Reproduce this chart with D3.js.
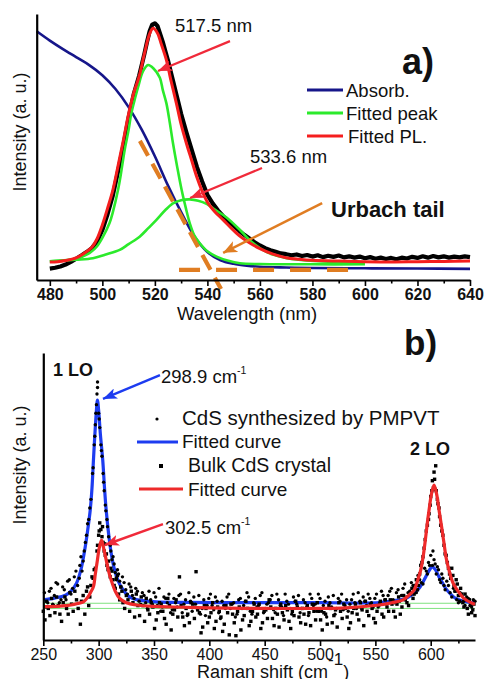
<!DOCTYPE html>
<html>
<head>
<meta charset="utf-8">
<script src="https://cdn.jsdelivr.net/npm/d3@7"></script>
<style>
  body { margin: 0; background: #fff; }
  svg { display: block; font-family: "Liberation Sans", Arial, sans-serif; }
</style>
</head>
<body>
<script>
// ---- panel a) : PL spectrum and absorption ----
const aTicks = [480, 500, 520, 540, 560, 580, 600, 620, 640];
const aMinor = [490, 510, 530, 550, 570, 590, 610, 630];

const absWl = [475, 480, 485, 490, 495, 500, 505, 510, 515, 520, 525, 530, 535, 540, 545, 550, 555, 560, 570, 580, 600, 620, 640];
const absVal = [93.5, 90, 86.8, 83.8, 80.8, 77, 71.8, 65, 56.5, 46.5, 35.5, 25.5, 16.5, 10.5, 7.4, 6.1, 5.4, 5, 4.7, 4.5, 4.4, 4.3, 4.2];

const plWl = [480, 482, 484, 486, 488, 490, 492, 494, 496, 498, 500, 502, 504, 506, 508, 510, 512, 514, 516, 517, 518, 519, 520, 521, 522, 523, 524, 525, 526, 527, 528, 529, 530, 532, 534, 536, 538, 540, 542, 544, 546, 548, 550, 552, 554, 556, 558, 560, 562, 564, 566, 568, 570, 572, 574, 576, 578, 580, 582, 584, 586, 588, 590, 592, 594, 596, 598, 600, 602, 604, 606, 608, 610, 612, 614, 616, 618, 620, 622, 624, 626, 628, 630, 632, 634, 636, 638, 640];
const plVal = [4.3, 4.6, 5.1, 5.8, 6.8, 8, 9.2, 10.5, 12, 14.4, 18.8, 24.8, 31.8, 41, 50.5, 61, 70, 76.8, 85, 89.5, 93.5, 96, 96.5, 95.5, 92.5, 89.5, 86, 82.5, 78.5, 74.5, 70.5, 66.5, 62.5, 55.5, 49, 42.5, 37, 32, 28.8, 26.2, 24, 22, 20.3, 18.6, 17, 15.6, 14.2, 13, 12, 11.2, 10.6, 10, 9.7, 9.3, 9.6, 9, 9.4, 8.8, 9.3, 8.6, 9.1, 8.7, 9.2, 8.5, 8.9, 8.4, 8.8, 8.2, 8.6, 8, 8.4, 7.9, 8.3, 7.8, 8.4, 8.1, 8.7, 8.3, 8.9, 8.4, 9, 8.5, 8.9, 8.4, 8.8, 8.5, 8.9, 8.6];

const fitWl = [480, 483, 486, 490, 493, 496, 498, 500, 502, 504, 506, 508, 510, 512, 514, 516, 518, 519.3, 521, 522.5, 524.4, 526, 528.2, 530, 532, 534, 536, 538, 540.3, 543, 546, 549, 552, 556, 560, 565, 570, 575, 580, 590, 600, 610, 620, 630, 640];
const fitVal = [6.8, 6.9, 7.3, 8.3, 10, 12.3, 15.5, 20.7, 27, 33.8, 43, 52.5, 62.5, 70.5, 76.5, 85, 92.5, 94.6, 92.8, 88.5, 82.7, 75.5, 66.4, 58.5, 51.4, 45, 38.6, 33.4, 28.8, 25.5, 22.6, 19.6, 16.8, 14, 11.8, 9.7, 8.4, 7.8, 7.4, 7.1, 6.9, 6.8, 6.9, 7, 7.1];

const peak1Wl = [480, 484, 488, 491, 494, 496, 498, 500, 502.7, 504, 506, 507, 508.5, 510, 511, 512.5, 513.6, 515.5, 517.4, 519.5, 521.9, 523, 524.4, 525.7, 526.9, 528.5, 530.2, 531.8, 533.3, 535, 537.1, 540, 543.5, 548, 552.4, 560, 580, 600];
const peak1Val = [7, 7.3, 7.7, 8.2, 9.5, 10.8, 12.7, 15.8, 21.3, 25.5, 34, 39.5, 48.9, 56.5, 62.5, 68.5, 72.5, 78.5, 80.8, 79.5, 76, 71.5, 66.4, 59, 51.4, 42.5, 33.8, 27, 21.3, 16.8, 13.8, 10.8, 8.8, 7.2, 6.3, 6, 5.9, 5.9];

const peak2Wl = [480, 484, 490, 496.4, 501, 506.6, 510, 514.2, 517.5, 520.6, 524, 526.9, 530, 533.3, 536.5, 539.7, 543, 547.4, 552.4, 557, 563, 569, 575.6, 588, 600];
const peak2Val = [7, 7.2, 7.6, 8.2, 9.5, 11.3, 13.5, 16.3, 19.5, 22.6, 26.3, 28.8, 30, 30.3, 29.8, 28.6, 26.4, 23.4, 18.8, 14.2, 10.3, 8.5, 7.5, 6.8, 6.6];

// ---- panel b) : Raman ----
const bTicks = [250, 300, 350, 400, 450, 500, 550, 600];
const bMinor = [275, 325, 375, 425, 475, 525, 575, 625];

const blueShift = [250, 260, 270, 275, 280, 284, 287.9, 290, 292.4, 294, 295.3, 296.5, 297.8, 298.9, 300, 301.5, 303.7, 305.3, 306.8, 309, 311.3, 314, 317.3, 322, 327.9, 335, 352, 380, 420, 460, 500, 530, 553.4, 565, 577.5, 584, 589.5, 595.5, 599, 601.5, 604, 607.5, 610.5, 613.5, 618, 622.5, 630, 637.5, 640];
const blueVal = [14, 14.6, 15.6, 17, 19.8, 24.5, 32.5, 38, 45.3, 53, 62.7, 71, 79, 83.6, 80, 72, 62.7, 53, 45.3, 37, 30.3, 25, 20.9, 17.5, 15, 14, 13.3, 13.1, 13, 13, 13, 12.9, 13, 13.6, 14.5, 16, 18, 22, 24.5, 25.5, 24.6, 22, 20, 18, 16, 14.5, 13.5, 13, 12.9];

const redShift = [250, 265, 275, 281, 286.3, 290, 293, 295.3, 297, 298.9, 300.5, 302.6, 304.5, 306.8, 309, 311.3, 315, 319, 325, 334, 350, 367, 400, 450, 500, 523, 553.4, 565, 574.5, 580, 585, 588, 591, 593.5, 595.5, 597, 598.5, 600.5, 603, 605.5, 607.5, 610, 612, 614, 616.5, 620, 624, 630, 637.5, 640];
const redVal = [11.6, 11.8, 12.2, 12.7, 13.3, 14.8, 16.8, 18.6, 23, 27.9, 32, 34.8, 32, 27.9, 24, 20.9, 17, 14.5, 13, 12.2, 11.7, 11.5, 11.2, 11, 11, 11.2, 12.2, 13, 13.9, 15.5, 17.4, 20.5, 24.4, 30, 36, 41, 45.3, 50.5, 54, 50.5, 45.3, 39, 33.7, 28.5, 24.4, 20, 17.4, 14.5, 12.8, 12.5];

const baseLevels = [12.8, 11.0];

// [shift, intensity] for the measured points, CdS synthesized by PMPVT
const pmpvtPts = [[251, 16.5], [254, 13], [257, 18], [260, 15.5], [263, 19.5], [266, 14], [269, 17.5], [272, 20.5], [275, 16], [278, 22], [281, 19], [283, 26], [285, 24], [287, 31], [289, 36.5], [291, 42], [293, 49], [294.5, 58], [296, 68], [297, 75], [298, 82], [298.5, 85.7], [299, 88], [299, 89.9], [300, 79], [301, 74], [302, 68], [303, 64], [304, 58], [305, 52], [306, 47], [307.5, 42], [309, 36], [310.5, 33], [312, 28], [314, 26.5], [316, 21], [318, 23], [320, 18.5], [323, 20], [326, 16], [329, 18.5], [332, 14.5], [335, 17], [338, 12.5], [341, 15.5], [344, 11], [347, 14], [350, 16.5], [353, 12], [356, 10], [359, 15], [362, 13], [365, 9.5], [368, 14.5], [371, 11.5], [374, 16], [377, 12.5], [380, 8.5], [383, 13.5], [386, 15], [389, 11], [392, 9], [395, 14], [398, 12], [401, 16], [404, 10.5], [407, 13.5], [410, 7.5], [413, 12], [416, 15], [419, 11], [422, 13], [425, 9], [428, 14.5], [431, 12], [434, 16.5], [437, 10], [440, 13], [443, 11.5], [446, 15.5], [449, 9.5], [452, 12.5], [455, 14], [458, 10.5], [461, 16], [464, 12], [467, 8.5], [470, 13.5], [473, 11], [476, 15], [479, 12.5], [482, 9.5], [485, 14], [488, 11.5], [491, 16], [494, 12], [497, 10], [500, 14.5], [503, 12], [506, 8], [509, 13], [512, 15.5], [515, 11], [518, 13.5], [521, 10.5], [524, 14], [527, 12.5], [530, 16], [533, 11], [536, 13.5], [539, 15], [542, 12], [545, 14.5], [548, 11.5], [551, 16], [554, 13], [557, 15.5], [560, 12.5], [563, 17], [566, 14], [569, 16.5], [572, 13.5], [575, 18], [578, 15], [581, 17], [584, 19], [587, 16.5], [590, 21], [593, 19.5], [596, 24], [598, 27], [600, 29.5], [601.5, 26], [603, 28], [605, 23], [607, 24.5], [609, 20], [611, 21.5], [613, 17.5], [616, 19], [619, 15], [622, 17], [625, 13], [628, 15.5], [631, 12], [634, 14.5], [637, 11.5], [640, 13.5],
  [252.5, 11.5], [255.5, 17], [258.5, 12.5], [261.5, 20], [264.5, 13], [267.5, 18.5], [270.5, 14], [273.5, 21], [276.5, 18], [279.5, 24], [282.5, 21.5], [284, 29], [286, 27.5], [288, 34], [290, 40.5], [292, 46], [295, 60], [296.5, 71], [297.5, 79], [300.5, 77], [302.5, 66], [304.5, 55], [306.5, 45], [308, 39.5], [311, 31], [313, 29], [315, 23.5], [317, 24.5], [319, 20.5], [321.5, 22], [324.5, 17.5], [327.5, 19.5], [330.5, 15.5], [333.5, 18], [336.5, 13.5], [339.5, 16.5], [342.5, 13], [345.5, 17], [348.5, 12.5], [351.5, 15], [354.5, 18], [357.5, 11.5], [360.5, 14.5], [363.5, 16], [366.5, 10.5], [369.5, 13], [372.5, 15.5], [375.5, 9.5], [378.5, 14], [381.5, 16.5], [384.5, 10], [387.5, 12.5], [390.5, 15.5], [393.5, 11], [396.5, 8.5], [399.5, 14.5], [402.5, 12], [405.5, 15], [408.5, 9.5], [411.5, 13.5], [414.5, 11], [417.5, 16], [420.5, 12.5], [423.5, 8], [426.5, 14], [429.5, 11], [432.5, 13.5], [435.5, 15], [438.5, 9], [441.5, 14.5], [444.5, 12], [447.5, 16.5], [450.5, 11], [453.5, 13], [456.5, 15.5], [459.5, 9.5], [462.5, 14], [465.5, 11.5], [468.5, 16], [471.5, 12.5], [474.5, 9], [477.5, 13.5], [480.5, 15.5], [483.5, 11], [486.5, 13], [489.5, 8.5], [492.5, 14.5], [495.5, 12.5], [498.5, 16], [501.5, 10], [504.5, 13.5], [507.5, 15], [510.5, 11.5], [513.5, 9], [516.5, 14.5], [519.5, 16], [522.5, 12], [525.5, 10], [528.5, 14], [531.5, 13], [534.5, 16.5], [537.5, 11], [540.5, 13.5], [543.5, 16], [546.5, 13], [549.5, 14.5], [552.5, 11.5], [555.5, 17], [558.5, 14], [561.5, 15.5], [564.5, 18], [567.5, 13], [570.5, 17.5], [573.5, 15.5], [576.5, 19.5], [579.5, 16.5], [582.5, 20], [585.5, 18], [588.5, 22.5], [591.5, 20], [594.5, 25], [597, 23], [599, 26], [602, 31], [604, 26.5], [606, 25.5], [608, 21], [610, 23], [612, 19], [614.5, 20.5], [617.5, 16.5], [620.5, 18], [623.5, 14], [626.5, 16.5], [629.5, 13.5], [632.5, 15], [635.5, 12], [638.5, 14]];

// [shift, intensity] for the bulk CdS crystal
const bulkPts = [[250, 10], [253, 13.5], [256, 8.5], [259, 12], [262, 15], [265, 9], [268, 13], [271, 11], [274, 16.5], [277, 10], [280, 14], [283.5, 5.5], [286, 15.5], [289, 17], [291, 12], [293, 19], [295, 21.5], [297, 25], [298.5, 31], [300, 36.5], [301, 40.8], [302, 38.5], [303, 36], [304, 34], [305, 31], [306, 29.5], [307.5, 26], [309, 27.5], [310.5, 22], [312, 24], [314, 19], [316, 21.5], [318, 16], [320, 18.5], [322, 13], [325, 15.5], [328, 10], [331, 13], [334, 16], [337, 8.5], [340, 12], [343, 14.5], [346, 9], [349, 11.5], [352, 7], [355, 13], [358, 10], [361, 5.5], [364, 12], [367, 9], [370, 14], [373, 22], [376, 8], [379, 11], [382, 6], [385, 12.5], [388, 23.8], [391, 9.5], [394, 4.5], [397, 11], [400, 8], [403, 13], [406, 6.5], [409, 10], [412, 3], [415, 12], [418, 1.8], [421, 9], [424, 1.5], [427, 11.5], [430, 7], [433, 13.5], [436, 5], [439, 10], [442, 8], [445, 12.5], [448, 6], [451, 10.5], [454, 14], [457, 7.5], [460, 11], [463, 4.5], [466, 9.5], [469, 12], [472, 6.5], [475, 10], [478, 13.5], [481, 8], [484, 11], [487, 5.5], [490, 9.5], [493, 12.5], [496, 7], [499, 10], [502, 3.5], [505, 9], [508, 12], [511, 6], [514, 10.5], [517, 13], [520, 7.5], [523, 11], [526, 4], [529, 9.5], [532, 12.5], [535, 7], [538, 10.5], [541, 13.5], [544, 8.5], [547, 11], [550, 6], [553, 12], [556, 9], [559, 14], [562, 10], [565, 12.5], [568, 8], [571, 15], [574, 11.5], [577, 14], [580, 12], [583, 18], [585, 16], [587, 21], [589, 19], [591, 26], [593, 29], [595, 35], [597, 40], [598.5, 44], [600, 50], [601.5, 55.5], [602.5, 53], [603, 58.5], [604.5, 60.7], [605, 52], [606, 49], [607.5, 46], [609, 40], [611, 36.5], [613, 30], [615, 27], [617, 23], [619, 25], [621, 19], [623, 21], [625, 15.5], [627, 18], [629, 13], [631, 16], [633, 11], [635, 14], [637, 9.5], [639, 12.5],
  [251.5, 7], [254.5, 11], [257.5, 14.5], [260.5, 9.5], [263.5, 12], [266.5, 6.5], [269.5, 15], [272.5, 9], [275.5, 12.5], [278.5, 17], [281.5, 11], [284.5, 13.5], [287.5, 9], [290, 18.5], [292, 15], [294, 22], [296, 24.5], [299, 33], [300.5, 38], [303.5, 39.5], [305.5, 33.5], [307, 30], [308.5, 24.5], [311, 25], [313, 21], [315, 18], [317, 22.5], [319, 14], [321, 17], [323.5, 11], [326.5, 14], [329.5, 17], [332.5, 8], [335.5, 12], [338.5, 15], [341.5, 6.5], [344.5, 10.5], [347.5, 13], [350.5, 4], [353.5, 9.5], [356.5, 12.5], [359.5, 7.5], [362.5, 14.5], [365.5, 3.5], [368.5, 10.5], [371.5, 8], [374.5, 12], [377.5, 5], [380.5, 9], [383.5, 13], [386.5, 7.5], [389.5, 10.5], [392.5, 2.5], [395.5, 12], [398.5, 6], [401.5, 9.5], [404.5, 4], [407.5, 11.5], [410.5, 8], [413.5, 5.5], [416.5, 9.5], [419.5, 12.5], [422.5, 6], [425.5, 10], [428.5, 3.5], [431.5, 8.5], [434.5, 11], [437.5, 6.5], [440.5, 12.5], [443.5, 9], [446.5, 4], [449.5, 10], [452.5, 7.5], [455.5, 11.5], [458.5, 5], [461.5, 9], [464.5, 12.5], [467.5, 7], [470.5, 10.5], [473.5, 4], [476.5, 8.5], [479.5, 11.5], [482.5, 6], [485.5, 9], [488.5, 12], [491.5, 5], [494.5, 10], [497.5, 13], [500.5, 7], [503.5, 9.5], [506.5, 5.5], [509.5, 11], [512.5, 8.5], [515.5, 4.5], [518.5, 10], [521.5, 12.5], [524.5, 8], [527.5, 6], [530.5, 11], [533.5, 9], [536.5, 13], [539.5, 5], [542.5, 10], [545.5, 12.5], [548.5, 7.5], [551.5, 10], [554.5, 13.5], [557.5, 8], [560.5, 11.5], [563.5, 14], [566.5, 10], [569.5, 12.5], [572.5, 9], [575.5, 15.5], [578.5, 13], [581.5, 16], [584, 14.5], [586, 19], [588, 17.5], [590, 23], [592, 27], [594, 32], [596, 38], [598, 42], [599.5, 47], [601, 52], [603.5, 56], [604, 52.5], [606.5, 47.5], [608, 43], [610, 38], [612, 33], [614, 29.5], [616, 25], [618, 21.5], [620, 22.5], [622, 17], [624, 19.5], [626, 13.5], [628, 16], [630, 11.5], [632, 14], [634, 9], [636, 12], [638, 10.5], [640, 8.5]];

const width = 485;
const height = 679;

const svg = d3.select("body")
  .append("svg")
  .attr("width", width)
  .attr("height", height);

const defs = svg.append("defs");
function arrowHead(id, color, len, wid) {
  defs.append("marker")
    .attr("id", id)
    .attr("viewBox", `0 0 ${len} ${wid}`)
    .attr("refX", len)
    .attr("refY", wid / 2)
    .attr("markerWidth", len)
    .attr("markerHeight", wid)
    .attr("markerUnits", "userSpaceOnUse")
    .attr("orient", "auto")
    .append("path")
    .attr("d", `M0,0 L${len},${wid / 2} L0,${wid} L${len * 0.25},${wid / 2} Z`)
    .attr("fill", color);
}
arrowHead("headRed", "#f02a3a", 14, 11);
arrowHead("headOrange", "#e07d22", 14, 12);
arrowHead("headBlue", "#1d3cf0", 14, 11);

function bottomAxis(g, x, major, minor, bold) {
  g.call(d3.axisBottom(x).tickValues(major).tickSize(6).tickSizeOuter(0).tickPadding(3));
  g.append("g").call(d3.axisBottom(x).tickValues(minor).tickSize(3.5).tickSizeOuter(0).tickFormat(""))
    .select(".domain").remove();
  g.selectAll(".domain").attr("stroke-width", 2.2);
  g.selectAll(".tick line").attr("stroke-width", 1.6);
  g.selectAll(".tick text")
    .attr("font-size", 16)
    .attr("font-family", "Liberation Sans, Arial, sans-serif")
    .attr("font-weight", bold ? "bold" : "normal")
    .attr("fill", "#111");
}

function addText(x, y, txt, size, opts = {}) {
  return svg.append("text")
    .attr("x", x).attr("y", y)
    .attr("font-size", size)
    .attr("font-weight", opts.bold ? "bold" : "normal")
    .attr("text-anchor", opts.anchor || "start")
    .attr("fill", opts.color || "#111")
    .text(txt);
}

// ================= panel a =================
const xA = d3.scaleLinear([475, 640], [36.7, 470]);
const yA = d3.scaleLinear([0, 100], [280, 14]);
const lineA = (wl, val, curve) => d3.line()
  .x(i => xA(wl[i])).y(i => yA(val[i]))
  .curve(curve || d3.curveCatmullRom)(d3.range(wl.length));

const gA = svg.append("g");
gA.append("path").attr("d", lineA(plWl, plVal, d3.curveLinear))
  .attr("fill", "none").attr("stroke", "#000").attr("stroke-width", 4.2).attr("stroke-linejoin", "round");
gA.append("path").attr("d", lineA(absWl, absVal))
  .attr("fill", "none").attr("stroke", "#16168a").attr("stroke-width", 2.6);
[[peak1Wl, peak1Val], [peak2Wl, peak2Val]].forEach(([w, v]) => {
  gA.append("path").attr("d", lineA(w, v))
    .attr("fill", "none").attr("stroke", "#2bea2b").attr("stroke-width", 2.6);
});
gA.append("path").attr("d", lineA(fitWl, fitVal))
  .attr("fill", "none").attr("stroke", "#f51e1e").attr("stroke-width", 3);

// Urbach tail construction lines
gA.append("line")
  .attr("x1", xA(514.3)).attr("y1", yA(52.3)).attr("x2", xA(545.2)).attr("y2", yA(-3.4))
  .attr("stroke", "#e07d22").attr("stroke-width", 4.2).attr("stroke-dasharray", "17,9");
gA.append("line")
  .attr("x1", xA(529.2)).attr("y1", yA(3.8)).attr("x2", xA(593.6)).attr("y2", yA(3.8))
  .attr("stroke", "#e07d22").attr("stroke-width", 4.2).attr("stroke-dasharray", "21,16");

gA.append("g").attr("transform", `translate(0,${yA(0)})`)
  .call(g => bottomAxis(g, xA, aTicks, aMinor, true));
gA.append("g").attr("transform", `translate(${xA(475)},0)`)
  .call(d3.axisLeft(yA).tickValues([]).tickSizeOuter(0))
  .selectAll(".domain").attr("stroke-width", 2.2);

// annotations a)
svg.append("line")
  .attr("x1", xA(548.6)).attr("y1", yA(89.8)).attr("x2", xA(521.2)).attr("y2", yA(78.6))
  .attr("stroke", "#f02a3a").attr("stroke-width", 2.2).attr("marker-end", "url(#headRed)");
svg.append("line")
  .attr("x1", xA(560.8)).attr("y1", yA(42.1)).attr("x2", xA(533.4)).attr("y2", yA(30.8))
  .attr("stroke", "#f02a3a").attr("stroke-width", 2.2).attr("marker-end", "url(#headRed)");
svg.append("line")
  .attr("x1", xA(583.7)).attr("y1", yA(28.9)).attr("x2", xA(546)).attr("y2", yA(10.2))
  .attr("stroke", "#e07d22").attr("stroke-width", 2.6).attr("marker-end", "url(#headOrange)");

addText(175, 32, "517.5 nm", 18.5);
addText(250, 163, "533.6 nm", 18.5);
addText(331, 217, "Urbach tail", 22, { bold: true });
addText(402, 74, "a)", 36, { bold: true });

const legA = [["Absorb.", "#16168a", 90], ["Fitted peak", "#2bea2b", 113], ["Fitted PL.", "#f51e1e", 136]];
legA.forEach(([label, color, y], i) => {
  svg.append("line").attr("x1", 307).attr("x2", 343).attr("y1", y).attr("y2", y)
    .attr("stroke", color).attr("stroke-width", 3);
  addText(i === 2 ? 348 : 346, y + 7, label, 18.5);
});

addText(247, 320, "Wavelength (nm)", 18.5, { anchor: "middle" });
svg.append("text")
  .attr("transform", `translate(26,${132}) rotate(-90)`)
  .attr("text-anchor", "middle").attr("font-size", 18).attr("fill", "#111")
  .text("Intensity (a. u.)");

// ================= panel b =================
const xB = d3.scaleLinear([250, 640], [43.3, 475]);
const yB = d3.scaleLinear([0, 100], [640, 353]);
const lineB = (sh, val) => d3.line()
  .x(i => xB(sh[i])).y(i => yB(val[i]))
  .curve(d3.curveCatmullRom)(d3.range(sh.length));

const gB = svg.append("g");
gB.selectAll("line.base").data(baseLevels).join("line")
  .attr("x1", xB(250)).attr("x2", xB(640))
  .attr("y1", d => yB(d)).attr("y2", d => yB(d))
  .attr("stroke", "#7fe27f").attr("stroke-width", 1);
gB.append("path").attr("d", lineB(blueShift, blueVal))
  .attr("fill", "none").attr("stroke", "#1d3cf0").attr("stroke-width", 3.2);
gB.append("g").selectAll("circle").data(pmpvtPts).join("circle")
  .attr("cx", d => xB(d[0])).attr("cy", d => yB(d[1])).attr("r", 1.7).attr("fill", "#000");
gB.append("g").selectAll("rect").data(bulkPts).join("rect")
  .attr("x", d => xB(d[0]) - 1.7).attr("y", d => yB(d[1]) - 1.7)
  .attr("width", 3.4).attr("height", 3.4).attr("fill", "#000");
gB.append("path").attr("d", lineB(redShift, redVal))
  .attr("fill", "none").attr("stroke", "#ee2a2a").attr("stroke-width", 3.2);

gB.append("g").attr("transform", `translate(0,${yB(0)})`)
  .call(g => bottomAxis(g, xB, bTicks, bMinor, false));
gB.append("g").attr("transform", `translate(${xB(250)},0)`)
  .call(d3.axisLeft(yB).tickValues([]).tickSizeOuter(0))
  .selectAll(".domain").attr("stroke-width", 2.2);

// annotations b)
svg.append("line")
  .attr("x1", xB(355.4)).attr("y1", yB(92.3)).attr("x2", xB(303.9)).attr("y2", yB(84))
  .attr("stroke", "#1d3cf0").attr("stroke-width", 2.4).attr("marker-end", "url(#headBlue)");
svg.append("line")
  .attr("x1", xB(358.1)).attr("y1", yB(40.4)).attr("x2", xB(305.7)).attr("y2", yB(33.1))
  .attr("stroke", "#f02a3a").attr("stroke-width", 2.4).attr("marker-end", "url(#headRed)");

addText(53, 376, "1 LO", 18, { bold: true });
addText(410, 455, "2 LO", 18, { bold: true });
addText(404, 355, "b)", 35, { bold: true });

function waveNumber(x, y, value) {
  const t = addText(x, y, value + " cm", 18.5);
  t.append("tspan").attr("dy", -9).attr("font-size", 10.5).text("-1");
}
waveNumber(161, 383, "298.9");
waveNumber(165, 534, "302.5");

// legend b)
svg.append("circle").attr("cx", 157).attr("cy", 419).attr("r", 1.6).attr("fill", "#000");
addText(182, 425, "CdS synthesized by PMPVT", 20.5);
svg.append("line").attr("x1", 137).attr("x2", 178).attr("y1", 442).attr("y2", 442)
  .attr("stroke", "#1d3cf0").attr("stroke-width", 3.2);
addText(182, 448, "Fitted curve", 19);
svg.append("rect").attr("x", 159).attr("y", 464).attr("width", 4).attr("height", 4).attr("fill", "#000");
addText(188, 472, "Bulk CdS crystal", 19.5);
svg.append("line").attr("x1", 139).attr("x2", 183).attr("y1", 489).attr("y2", 489)
  .attr("stroke", "#ee2a2a").attr("stroke-width", 3.2);
addText(188, 496, "Fitted curve", 19);

const xlab = addText(197, 678, "Raman shift (cm", 18);
xlab.append("tspan").attr("dy", -13).attr("font-size", 17).text("-1");
xlab.append("tspan").attr("dy", 13).text(")");

svg.append("text")
  .attr("transform", `translate(26,${465}) rotate(-90)`)
  .attr("text-anchor", "middle").attr("font-size", 18).attr("fill", "#111")
  .text("Intensity (a. u.)");
</script>
</body>
</html>
